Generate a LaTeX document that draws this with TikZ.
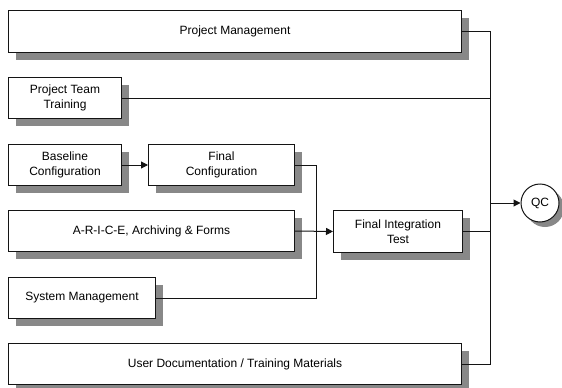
\documentclass[tikz,border=0pt]{standalone}
\usepackage{fontspec}
\setmainfont{Liberation Sans}
\usetikzlibrary{shadows,arrows.meta}
\definecolor{shadowgray}{RGB}{136,136,136}
\definecolor{linecol}{RGB}{20,20,20}
\begin{document}
\begin{tikzpicture}[x=1pt,y=-1pt,
  box/.style={draw=linecol,line width=1pt,fill=white,anchor=north west,inner sep=0pt,align=center,
    font=\fontsize{12}{15}\selectfont,
    drop shadow={shadow xshift=7pt,shadow yshift=-7pt,fill=shadowgray,opacity=1}},
  conn/.style={draw=linecol,line width=1pt},
  arr/.style={conn,-{Triangle[length=7pt,width=7pt]}}]
\useasboundingbox (0,0) rectangle (562,388);
\node[box,minimum width=453pt,minimum height=42pt] (pm) at (8,10) {Project Management};
\node[box,minimum width=113pt,minimum height=41pt] (ptt) at (8,77) {Project Team\\Training};
\node[box,minimum width=113pt,minimum height=41pt] (bc) at (8,144) {Baseline\\Configuration};
\node[box,minimum width=146pt,minimum height=41pt] (fc) at (148,144) {Final\\Configuration};
\node[box,minimum width=286pt,minimum height=41pt] (arice) at (8,210) {A-R-I-C-E, Archiving \& Forms};
\node[box,minimum width=147pt,minimum height=41pt] (sm) at (8,277) {System Management};
\node[box,minimum width=129pt,minimum height=42pt] (fit) at (333,210) {Final Integration\\Test};
\node[box,minimum width=453pt,minimum height=41pt] (ud) at (8,343) {User Documentation / Training Materials};
\node[draw=linecol,line width=1pt,fill=white,circle,minimum size=38pt,inner sep=0pt,
  font=\fontsize{12}{15}\selectfont,
  drop shadow={shadow xshift=5pt,shadow yshift=-5pt,fill=shadowgray,opacity=1}] (qc) at (540,203) {QC};
\coordinate (busA) at (316,0);
\coordinate (busB) at (490,0);
\draw[arr] (bc.east) -- (fc.west);
\draw[conn] (fc.east) -- (fc.east -| busA) |- (sm.east);
\draw[arr] (arice.east) -- (fit.west);
\draw[conn] (pm.east) -- (pm.east -| busB) |- (ud.east);
\draw[conn] (ptt.east) -- (ptt.east -| busB);
\draw[conn] (fit.east) -- (fit.east -| busB);
\draw[arr] (busB |- qc.west) -- (qc.west);
\end{tikzpicture}
\end{document}
